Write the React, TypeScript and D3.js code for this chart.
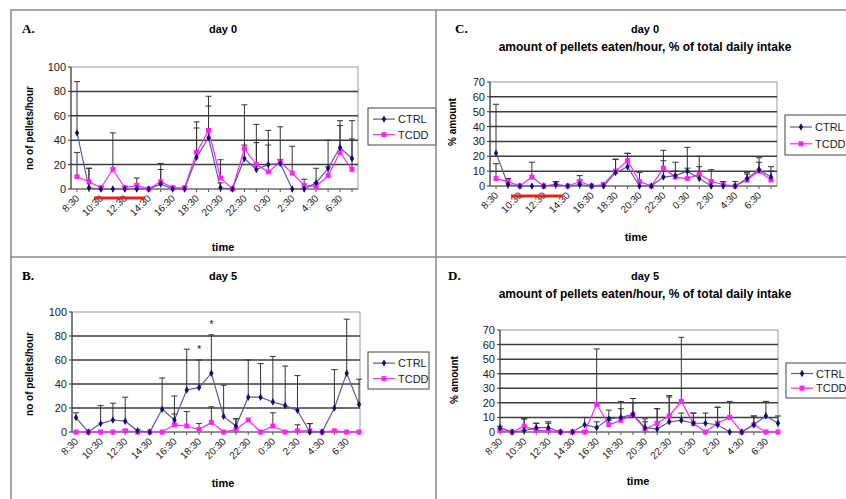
import React from 'react'
import * as d3 from 'd3'

// hourly categories, labels shown for every second one
const times = ['8:30', '9:30', '10:30', '11:30', '12:30', '13:30', '14:30', '15:30', '16:30', '17:30', '18:30', '19:30',
  '20:30', '21:30', '22:30', '23:30', '0:30', '1:30', '2:30', '3:30', '4:30', '5:30', '6:30', '7:30']
const seriesNames = ['CTRL', 'TCDD']

// A. day 0, pellets/hour
const ctrlA = [46, 1, 0, 0, 0, 0, 0, 4, 0, 0, 26, 42, 1, 0, 25, 16, 20, 21, 0, 0, 5, 17, 34, 25]
const ctrlErrA = [42, 16, 0, 0, 0, 0, 0, 12, 0, 0, 29, 34, 4, 0, 44, 37, 28, 30, 0, 0, 12, 23, 22, 31]
const tcddA = [10, 6, 1, 16, 1, 3, 0, 6, 1, 1, 30, 48, 9, 0, 33, 20, 14, 22, 13, 3, 2, 11, 30, 16]
const tcddErrA = [20, 11, 1, 30, 1, 6, 0, 15, 1, 1, 20, 20, 15, 0, 3, 18, 22, 2, 22, 5, 3, 7, 22, 25]

// B. day 5, pellets/hour
const ctrlB = [12, 0, 7, 10, 9, 1, 0, 19, 10, 35, 37, 49, 13, 5, 29, 29, 25, 22, 18, 0, 0, 20, 49, 23]
const ctrlErrB = [4, 0, 15, 14, 20, 1, 0, 26, 20, 34, 23, 32, 26, 6, 31, 28, 38, 33, 29, 7, 0, 32, 45, 21]
const tcddB = [0, 0, 0, 0, 1, 0, 0, 0, 6, 5, 2, 8, 0, 2, 10, 0, 5, 0, 1, 1, 0, 1, 0, 0]
const tcddErrB = [0, 0, 0, 0, 1, 0, 0, 0, 9, 12, 5, 13, 0, 9, 0, 0, 11, 0, 5, 6, 0, 0, 0, 0]
const starsB = [10, 11]

// C. day 0, % of daily intake
const ctrlC = [22, 1, 0, 0, 0, 1, 0, 1, 0, 0, 9, 13, 0, 0, 6, 7, 10, 5, 0, 0, 0, 5, 11, 6]
const ctrlErrC = [33, 4, 0, 0, 0, 2, 0, 3, 0, 0, 9, 9, 0, 0, 18, 9, 16, 15, 0, 0, 0, 4, 8, 7]
const tcddC = [5, 3, 0, 6, 0, 1, 0, 3, 0, 1, 10, 17, 3, 0, 12, 6, 5, 8, 3, 1, 0, 4, 10, 4]
const tcddErrC = [10, 2, 0, 10, 0, 2, 0, 4, 0, 1, 8, 5, 6, 0, 5, 4, 7, 5, 8, 2, 3, 4, 6, 6]

// D. day 5, % of daily intake
const ctrlD = [3, 0, 1, 3, 3, 0, 0, 5, 3, 9, 10, 12, 3, 2, 7, 8, 6, 6, 5, 0, 0, 5, 11, 6]
const ctrlErrD = [1, 0, 8, 3, 4, 0, 0, 5, 4, 6, 11, 11, 6, 14, 17, 5, 7, 7, 12, 0, 0, 6, 10, 5]
const tcddD = [1, 0, 4, 1, 1, 0, 0, 0, 19, 5, 8, 12, 2, 6, 11, 21, 6, 0, 6, 10, 0, 5, 0, 0]
const tcddErrD = [1, 0, 5, 5, 5, 0, 0, 1, 38, 3, 8, 8, 5, 10, 14, 44, 7, 0, 11, 11, 0, 6, 0, 0]

const countTicks = [0, 20, 40, 60, 80, 100]
const pctTicks = [0, 10, 20, 30, 40, 50, 60, 70]

const CTRL_LINE = '#5a5aa8'
const CTRL_DOT = '#10106a'
const TCDD_COLOR = '#ff22ff'
const GRID = '#3c3c3c'
const FONT = 'Arial, "Liberation Sans", sans-serif'

function Panel(props: any) {
  const { letter, title, subtitle, ctrl, ctrlErr, tcdd, tcddErr, ticks, ymax, frame, xRange, ylabel,
    letterPos, titleX, titleY, labelPos, timePos, legend, redBar, stars } = props

  const x = d3.scalePoint<string>().domain(times).range(xRange)
  const y = d3.scaleLinear().domain([0, ymax]).range([frame.bottom, frame.top])
  const line = d3.line<number>().x((d, i) => x(times[i]) as number).y(d => y(d))

  const errBars = (vals: number[], errs: number[], key: string) =>
    vals.map((v, i) => {
      if (!errs[i]) return null
      const cx = x(times[i]) as number
      const top = y(v + errs[i])
      return (
        <g key={key + i} stroke="#333" strokeWidth={1}>
          <line x1={cx} x2={cx} y1={y(v)} y2={top} />
          <line x1={cx - 3} x2={cx + 3} y1={top} y2={top} />
        </g>
      )
    })

  return (
    <g fontFamily={FONT}>
      <text x={letterPos[0]} y={letterPos[1]} fontFamily='"Liberation Serif", "Times New Roman", serif'
        fontWeight="bold" fontSize={13}>{letter}</text>
      <text x={titleX} y={titleY} textAnchor="middle" fontWeight="bold" fontSize={11}>{title}</text>
      {subtitle && <text x={titleX} y={titleY + 18} textAnchor="middle" fontWeight="bold" fontSize={12}>{subtitle}</text>}

      {/* plot frame and grid */}
      <rect x={frame.left} y={frame.top} width={frame.right - frame.left} height={frame.bottom - frame.top}
        fill="white" stroke="#9a9a9a" strokeWidth={1} />
      {ticks.filter((t: number) => t > 0 && t < ymax).map((t: number) => (
        <line key={'g' + t} x1={frame.left} x2={frame.right} y1={y(t)} y2={y(t)} stroke={GRID} strokeWidth={1.5} />
      ))}
      <line x1={frame.left} x2={frame.left} y1={frame.top} y2={frame.bottom} stroke="#333" />
      <line x1={frame.left} x2={frame.right} y1={frame.bottom} y2={frame.bottom} stroke="#555" />
      {ticks.map((t: number) => (
        <g key={'yt' + t}>
          <line x1={frame.left - 3} x2={frame.left} y1={y(t)} y2={y(t)} stroke="#333" />
          <text x={frame.left - 5} y={y(t) + 4} textAnchor="end" fontSize={11} fill="#222">{t}</text>
        </g>
      ))}
      {times.map((t, i) => {
        const cx = x(t) as number
        return (
          <g key={'xt' + i}>
            <line x1={cx} x2={cx} y1={frame.bottom} y2={frame.bottom + 3} stroke="#555" />
            {i % 2 === 0 && (
              <text transform={`translate(${cx + 3},${frame.bottom + 10}) rotate(-45)`} textAnchor="end"
                fontSize={10} fill="#222">{t}</text>
            )}
          </g>
        )
      })}

      {errBars(ctrl, ctrlErr, 'ec')}
      {errBars(tcdd, tcddErr, 'et')}

      <path d={line(tcdd) as string} fill="none" stroke={TCDD_COLOR} strokeWidth={1.2} />
      <path d={line(ctrl) as string} fill="none" stroke={CTRL_LINE} strokeWidth={1.2} />
      {tcdd.map((v: number, i: number) => (
        <rect key={'tp' + i} x={(x(times[i]) as number) - 2.5} y={y(v) - 2.5} width={5} height={5} fill={TCDD_COLOR} />
      ))}
      {ctrl.map((v: number, i: number) => (
        <path key={'cp' + i} d={d3.symbol(d3.symbolDiamond, 16)() as string}
          transform={`translate(${x(times[i])},${y(v)})`} fill={CTRL_DOT} />
      ))}
      {stars && stars.map((i: number) => (
        <text key={'s' + i} x={x(times[i]) as number} y={y(ctrl[i] + ctrlErr[i]) - 7} textAnchor="middle"
          fontSize={11} fill="#222">*</text>
      ))}

      {redBar && <line x1={redBar[0]} x2={redBar[1]} y1={redBar[2]} y2={redBar[2]} stroke="#e8211c" strokeWidth={3} />}

      <text transform={`translate(${labelPos[0]},${labelPos[1]}) rotate(-90)`} textAnchor="middle"
        fontWeight="bold" fontSize={10}>{ylabel}</text>
      <text x={timePos[0]} y={timePos[1]} textAnchor="middle" fontWeight="bold" fontSize={11}>time</text>

      {/* legend */}
      <rect x={legend[0]} y={legend[1]} width={legend[2]} height={legend[3]} fill="white" stroke="#444" strokeWidth={1} />
      {seriesNames.map((name, i) => {
        const ly = legend[1] + legend[3] * (i === 0 ? 0.3 : 0.72)
        const lx = legend[0] + 5
        return (
          <g key={name}>
            <line x1={lx} x2={lx + 22} y1={ly} y2={ly} stroke={i === 0 ? CTRL_LINE : TCDD_COLOR} strokeWidth={1.2} />
            {i === 0
              ? <path d={d3.symbol(d3.symbolDiamond, 16)() as string} transform={`translate(${lx + 11},${ly})`} fill={CTRL_DOT} />
              : <rect x={lx + 8.5} y={ly - 2.5} width={5} height={5} fill={TCDD_COLOR} />}
            <text x={lx + 25} y={ly + 4} fontSize={11} fill="#222">{name}</text>
          </g>
        )
      })}
    </g>
  )
}

export default function App() {
  return (
    <svg width={846} height={499} style={{ position: 'absolute', left: 0, top: 0, background: 'white' }}>
      <rect width={846} height={499} fill="white" />

      <Panel letter="A." title="day 0" ctrl={ctrlA} ctrlErr={ctrlErrA} tcdd={tcddA} tcddErr={tcddErrA}
        ticks={countTicks} ymax={100} frame={{ left: 71, right: 358, top: 67, bottom: 189 }} xRange={[77, 352]}
        ylabel="no of pellets/hour" letterPos={[22, 33]} titleX={223} titleY={33} labelPos={[33, 128]}
        timePos={[223, 251]} legend={[368, 108, 68, 37]} redBar={[94, 145, 198]} />

      <Panel letter="C." title="day 0" subtitle="amount of pellets eaten/hour, % of total daily intake"
        ctrl={ctrlC} ctrlErr={ctrlErrC} tcdd={tcddC} tcddErr={tcddErrC}
        ticks={pctTicks} ymax={70} frame={{ left: 490, right: 777, top: 82, bottom: 186 }} xRange={[496, 771]}
        ylabel="% amount" letterPos={[455, 33]} titleX={645} titleY={33} labelPos={[456, 122]}
        timePos={[636, 241]} legend={[785, 115, 66, 40]} redBar={[511, 563, 196]} />

      <Panel letter="B." title="day 5" ctrl={ctrlB} ctrlErr={ctrlErrB} tcdd={tcddB} tcddErr={tcddErrB}
        ticks={countTicks} ymax={100} frame={{ left: 72, right: 360, top: 312, bottom: 432 }} xRange={[76, 359]}
        ylabel="no of pellets/hour" letterPos={[22, 280]} titleX={223} titleY={280} labelPos={[33, 374]}
        timePos={[223, 487]} legend={[368, 352, 61, 37]} stars={starsB} />

      <Panel letter="D." title="day 5" subtitle="amount of pellets eaten/hour, % of total daily intake"
        ctrl={ctrlD} ctrlErr={ctrlErrD} tcdd={tcddD} tcddErr={tcddErrD}
        ticks={pctTicks} ymax={70} frame={{ left: 500, right: 778, top: 330, bottom: 432 }} xRange={[500, 778]}
        ylabel="% amount" letterPos={[448, 280]} titleX={645} titleY={280} labelPos={[458, 380]}
        timePos={[638, 485]} legend={[786, 363, 66, 35]} />

      {/* panel frame */}
      <g stroke="#8a8a8a" strokeWidth={1.5}>
        <line x1={10} x2={846} y1={10} y2={10} />
        <line x1={11} x2={11} y1={10} y2={499} />
        <line x1={436} x2={436} y1={10} y2={499} />
        <line x1={10} x2={846} y1={257} y2={257} />
      </g>
    </svg>
  )
}
